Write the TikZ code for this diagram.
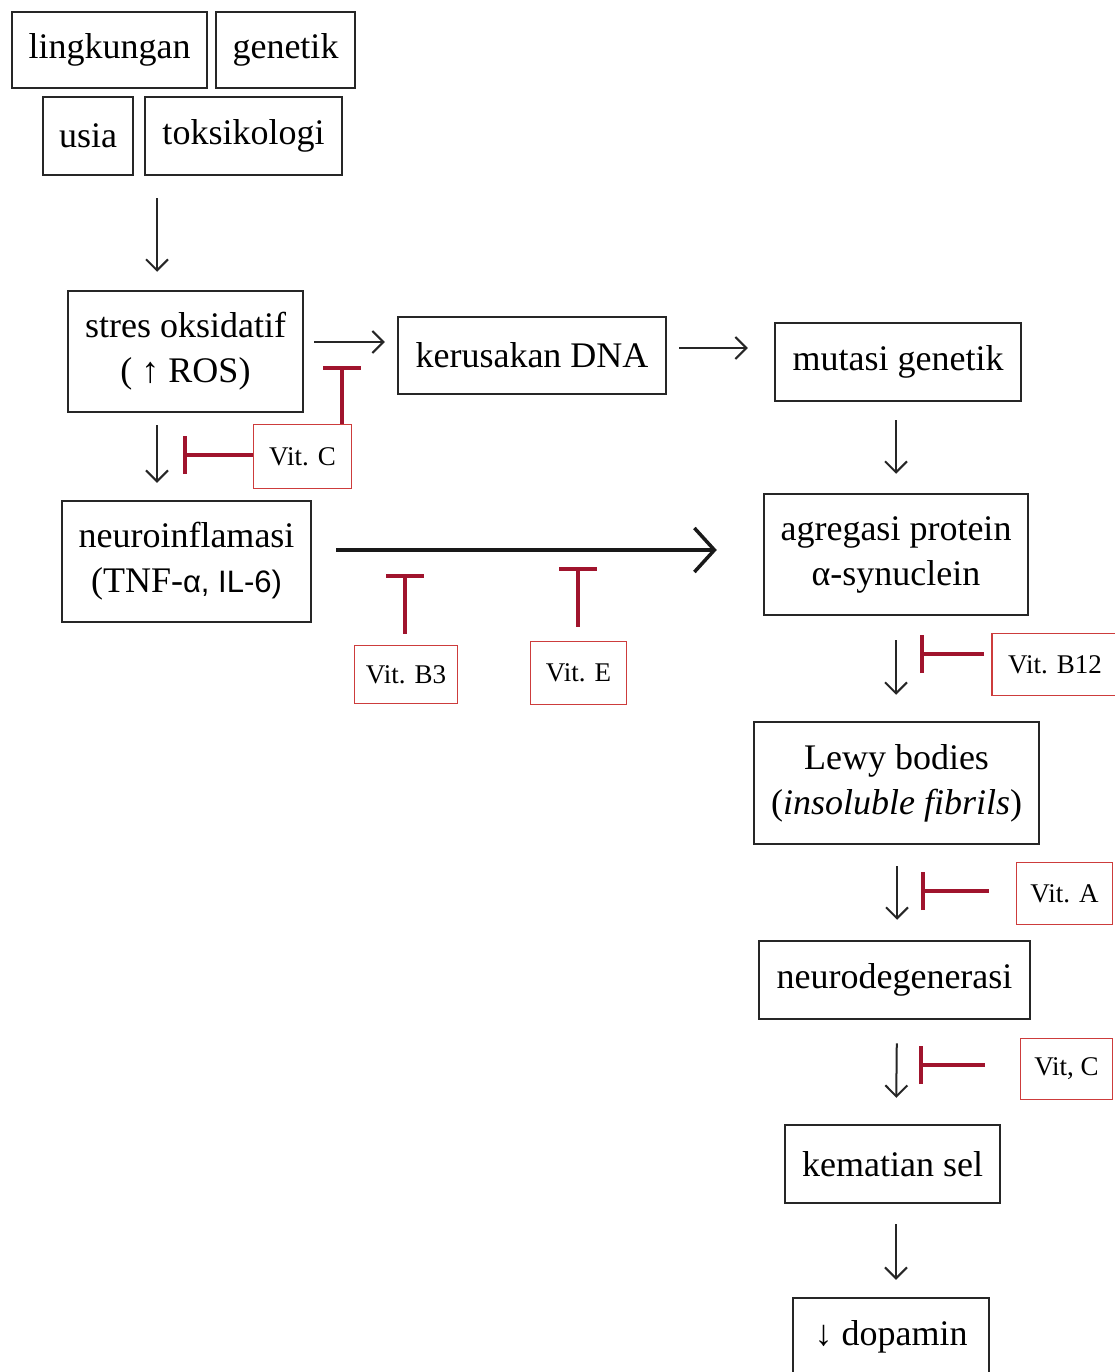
\documentclass[tikz,border=0pt]{standalone}
\usepackage{fontspec}
\setmainfont{Liberation Serif}
\newfontfamily\sansf{Liberation Sans}
\usetikzlibrary{arrows.meta}
\definecolor{inhibred}{RGB}{160,20,45}
\definecolor{vitred}{RGB}{205,60,60}
\begin{document}
\begin{tikzpicture}[
  x=1pt, y=-1pt,
  box/.style={draw=black!85, line width=2.5pt, inner sep=0pt, align=center, font=\fontsize{36}{45}\selectfont},
  vit/.style={draw=vitred, line width=1.8pt, inner sep=0pt, font=\fontsize{27}{32}\selectfont},
  arr/.style={-{Straight Barb[length=11pt, width=22pt]}, line width=2pt, black!85},
  bigarr/.style={-{Straight Barb[length=20pt, width=44pt]}, line width=3.5pt, black!90},
  inhib/.style={draw=inhibred, line width=4pt, -{Bar[width=38pt]}},
]
\useasboundingbox (0,0) rectangle (1115,1372);

% === Risk factors ===
\node[box, minimum width=195pt, minimum height=76pt] (lingk) at (109.5,50) {lingkungan};
\node[box, minimum width=139pt, minimum height=76pt] (gen) at (285.5,50) {genetik};
\node[box, minimum width=90pt, minimum height=78pt] (usia) at (88,136) {usia};
\node[box, minimum width=197pt, minimum height=78pt] (toks) at (243.5,136) {toksikologi};

% === Left / top chain ===
\node[box, minimum width=235pt, minimum height=121pt] (stres) at (185.5,351.5) {stres oksidatif\\( \textbf{↑} ROS)};
\node[box, minimum width=268pt, minimum height=77pt] (ker) at (532,355.5) {kerusakan DNA};
\node[box, minimum width=246pt, minimum height=78pt] (mut) at (898,362) {mutasi genetik};
\node[box, minimum width=249pt, minimum height=121pt] (neuro) at (186.5,561.5) {neuroinflamasi\\(TNF-{\sansf\fontsize{31}{45}\selectfont α, IL-6)}};

% === Right chain ===
\node[box, minimum width=264pt, minimum height=121pt] (agreg) at (896,554.5) {agregasi protein\\α-synuclein};
\node[box, minimum width=285pt, minimum height=122pt] (lewy) at (896.5,783) {Lewy bodies\\(\textit{insoluble fibrils})};
\node[box, minimum width=271pt, minimum height=78pt] (ndeg) at (894.5,980) {neurodegenerasi};
\node[box, minimum width=215pt, minimum height=78pt] (kem) at (892.5,1164) {kematian sel};
\node[box, minimum width=196pt, minimum height=78pt] (dop) at (891,1337) {↓ dopamin};

% === Vitamins ===
\node[vit, minimum width=98pt, minimum height=64pt] (vitC1) at (302.5,456.5) {Vit. C};
\node[vit, minimum width=103pt, minimum height=58pt] (vitB3) at (406,674.5) {Vit. B3};
\node[vit, minimum width=96pt, minimum height=63pt] (vitE) at (578.5,673) {Vit. E};
\node[vit, minimum width=126pt, minimum height=62pt] (vitB12) at (1055,664.5) {Vit. B12};
\node[vit, minimum width=96pt, minimum height=62pt] (vitA) at (1064.5,893.5) {Vit. A};
\node[vit, minimum width=92pt, minimum height=61pt] (vitC2) at (1066.5,1069) {Vit, C};

% Arrows
\draw[arr, shorten <=22pt, shorten >=18pt] ([xshift=-86.5pt]toks.south) -- ([xshift=-28.5pt]stres.north);
\draw[arr, shorten <=10pt, shorten >=12pt] ([yshift=9.5pt]stres.east) -- ([yshift=13.5pt]ker.west);
\draw[arr, shorten <=12pt, shorten >=26pt] ([yshift=7.5pt]ker.east) -- ([yshift=14pt]mut.west);
\draw[arr, shorten <=12pt, shorten >=17pt] ([xshift=-28.5pt]stres.south) -- ([xshift=-29.5pt]neuro.north);
\draw[bigarr, shorten <=24pt, shorten >=46pt] ([yshift=11.5pt]neuro.east) -- ([yshift=4.5pt]agreg.west);
\draw[arr, shorten <=18pt, shorten >=19pt] ([xshift=-2pt]mut.south) -- (agreg.north);
\draw[arr, shorten <=24pt, shorten >=26pt] (agreg.south) -- ([xshift=-0.5pt]lewy.north);
\draw[arr, shorten <=21pt, shorten >=20pt] ([xshift=0.5pt]lewy.south) -- ([xshift=2.5pt]ndeg.north);
\draw[arr, shorten <=23pt, shorten >=26pt] ([xshift=2.5pt]ndeg.south) -- ([xshift=3.5pt]kem.north);
\draw[arr, shorten <=20pt, shorten >=17pt] ([xshift=3.5pt]kem.south) -- ([xshift=5pt]dop.north);

% Inhibition
\coordinate (hitSK) at (342,366);
\coordinate (hitSN) at (183,455);
\coordinate (hitB3) at (405,574);
\coordinate (hitE) at (578,567);
\coordinate (hitB12) at (920,654);
\coordinate (hitA) at (921,891);
\coordinate (hitC2) at (919,1065);
\draw[inhib] ([xshift=39.5pt]vitC1.north) -- (hitSK);
\draw[inhib] ([yshift=1.5pt]vitC1.west) -- (hitSN);
\draw[inhib, shorten <=11pt] ([xshift=-1pt]vitB3.north) -- (hitB3);
\draw[inhib, shorten <=14pt] ([xshift=-0.5pt]vitE.north) -- (hitE);
\draw[inhib, shorten <=7pt] ([yshift=10.5pt]vitB12.west) -- (hitB12);
\draw[inhib, shorten <=27pt] ([yshift=2.5pt]vitA.west) -- (hitA);
\draw[inhib, shorten <=35pt] ([yshift=4pt]vitC2.west) -- (hitC2);
\end{tikzpicture}
\end{document}
